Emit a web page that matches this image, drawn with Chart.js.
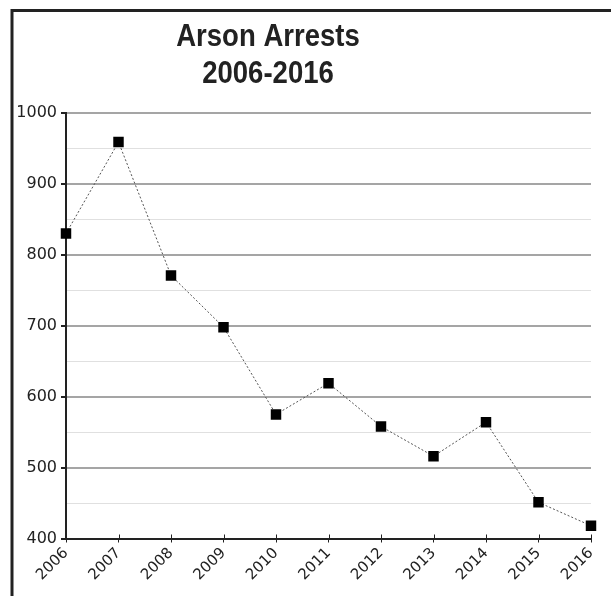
<!DOCTYPE html>
<html>
<head>
<meta charset="utf-8">
<script src="https://cdn.jsdelivr.net/npm/chart.js@4"></script>
<style>
  html, body { margin: 0; padding: 0; background: #fff; }
  #wrap { width: 611px; height: 596px; }
</style>
</head>
<body>
<div id="wrap"><canvas id="arsonChart" width="611" height="596"></canvas></div>
<script>
const years = ["2006", "2007", "2008", "2009", "2010", "2011", "2012", "2013", "2014", "2015", "2016"];
const arrests = [830, 959, 771, 698, 575, 619, 558, 516, 564, 451, 418];
const titleLines = ["Arson Arrests", "2006-2016"];
const yMin = 400;
const yMax = 1000;

// frame on the left and top edges, condensed title, small x ticks above the axis
const framePlugin = {
  id: "frame",
  beforeDraw(chart) {
    const ctx = chart.ctx;
    ctx.save();
    ctx.fillStyle = "#fff";
    ctx.fillRect(0, 0, chart.width, chart.height);
    ctx.strokeStyle = "#222";
    ctx.lineWidth = 3;
    ctx.beginPath();
    ctx.moveTo(12, chart.height);
    ctx.lineTo(12, 10.5);
    ctx.lineTo(chart.width, 10.5);
    ctx.stroke();

    // title, squeezed horizontally to mimic a condensed face
    ctx.fillStyle = "#222";
    ctx.font = "bold 32px 'Liberation Sans', Arial, sans-serif";
    ctx.textAlign = "center";
    ctx.textBaseline = "alphabetic";
    titleLines.forEach((line, i) => {
      ctx.save();
      ctx.translate(268, 46 + i * 37);
      ctx.scale(0.86, 1);
      ctx.fillText(line, 0, 0);
      ctx.restore();
    });
    ctx.restore();
  },
  afterDraw(chart) {
    const ctx = chart.ctx;
    const x = chart.scales.x;
    ctx.save();
    ctx.strokeStyle = "#222";
    ctx.lineWidth = 1;
    x.ticks.forEach((t, i) => {
      const px = Math.round(x.getPixelForTick(i)) + 0.5;
      ctx.beginPath();
      ctx.moveTo(px, x.top - 4);
      ctx.lineTo(px, x.top);
      ctx.stroke();
    });
    ctx.restore();
  }
};

const ctx = document.getElementById("arsonChart").getContext("2d");
new Chart(ctx, {
  type: "line",
  data: {
    labels: years,
    datasets: [{
      label: "Arrests",
      data: arrests,
      borderColor: "#555",
      borderWidth: 1,
      borderDash: [2, 2],
      fill: false,
      tension: 0,
      pointStyle: "rect",
      pointRadius: 7.4,
      pointBackgroundColor: "#000",
      pointBorderColor: "#000",
      pointBorderWidth: 0
    }]
  },
  options: {
    responsive: false,
    animation: false,
    layout: { padding: { left: 14, right: 20, top: 113, bottom: 0 } },
    plugins: {
      legend: { display: false },
      tooltip: { enabled: false },
      title: { display: false }
    },
    scales: {
      x: {
        afterFit: scale => { scale.height = 57.5; },
        border: { color: "#222", width: 2 },
        grid: { drawOnChartArea: false, drawTicks: true, tickLength: 4, tickColor: "#222" },
        ticks: {
          color: "#222",
          font: { family: "'DejaVu Sans', Verdana, sans-serif", size: 15 },
          maxRotation: 45,
          minRotation: 45,
          autoSkip: false,
          padding: 2
        }
      },
      y: {
        min: yMin,
        max: yMax,
        afterFit: scale => { scale.width = 52; },
        border: { color: "#222", width: 2 },
        grid: {
          color: c => (c.tick.value % 100 === 0 ? "#a5a5a5" : "#e0e0e0"),
          lineWidth: c => (c.tick.value % 100 === 0 ? 2 : 1),
          tickColor: c => (c.tick.value % 100 === 0 ? "#222" : "rgba(0,0,0,0)"),
          tickLength: 5
        },
        ticks: {
          stepSize: 50,
          autoSkip: false,
          color: "#222",
          padding: 4,
          font: { family: "'DejaVu Sans', Verdana, sans-serif", size: 16 },
          callback: v => (v % 100 === 0 ? v : "")
        }
      }
    }
  },
  plugins: [framePlugin]
});
</script>
</body>
</html>
